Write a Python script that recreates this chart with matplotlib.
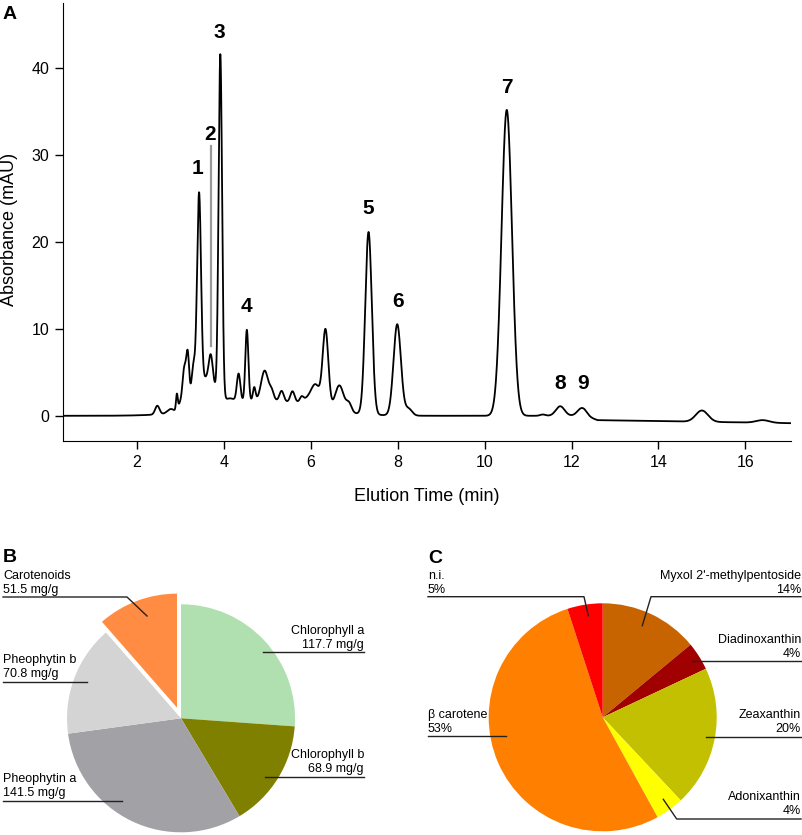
import numpy as np
import matplotlib.pyplot as plt

plt.rcParams['font.family'] = ['Liberation Sans', 'DejaVu Sans']

W, H = 803, 835  # figure size in pixels

# --- Panel A: peak table ---
# retention time (min), height (mAU), width sigma (min)
peak_time = [2.47, 2.78, 2.92, 3.00, 3.09, 3.17, 3.30, 3.60, 4.90,
             3.43, 3.70, 3.92, 4.15, 4.34, 4.53, 4.70, 4.94, 5.10, 5.33,
             5.58, 5.79, 5.95, 6.12, 6.34, 6.66, 6.88, 7.33, 7.99, 8.25,
             10.51, 11.34, 11.74, 12.24, 15.0, 16.4]
peak_height = [1.0, 0.5, 1.8, 1.0, 4.5, 6.0, 4.0, 3.5, 1.8,
               22.5, 3.0, 39.4, 0.5, 3.2, 8.2, 1.5, 3.4, 1.0, 1.2,
               1.3, 0.5, 0.8, 2.2, 9.0, 3.0, 1.0, 21.0, 10.5, 0.8,
               35.2, 0.15, 1.1, 0.9, 1.3, 0.3]
peak_sigma = [0.05, 0.08, 0.02, 0.05, 0.04, 0.035, 0.045, 0.20, 1.10,
              0.045, 0.045, 0.04, 0.10, 0.04, 0.035, 0.03, 0.08, 0.05, 0.05,
              0.05, 0.04, 0.15, 0.10, 0.065, 0.10, 0.06, 0.075, 0.085, 0.08,
              0.12, 0.06, 0.10, 0.10, 0.14, 0.15]
drift_time = [0.3, 12.3, 12.6, 17.05]
drift_abs = [0.0, 0.0, -0.5, -0.85]

label_ids = ['1', '2', '3', '4', '5', '6', '7', '8', '9']
label_time = [3.40, 3.68, 3.89, 4.53, 7.33, 8.01, 10.51, 11.75, 12.26]
label_abs = [28.4, 32.4, 44.1, 12.6, 23.8, 13.1, 37.8, 3.7, 3.7]

# --- Panel B: pigment content (mg/g) ---
pig_names = ['Chlorophyll a', 'Chlorophyll b', 'Pheophytin a', 'Pheophytin b', 'Carotenoids']
pig_values = [117.7, 68.9, 141.5, 70.8, 51.5]
pig_colors = ['#b0dfb0', '#808000', '#a2a1a6', '#d4d4d4', '#ff8c42']

# --- Panel C: carotenoid composition (%) ---
caro_names = ["Myxol 2'-methylpentoside", 'Diadinoxanthin', 'Zeaxanthin',
              'Adonixanthin', 'β carotene', 'n.i.']
caro_pct = [14, 4, 20, 4, 53, 5]
caro_colors = ['#c86400', '#a00000', '#c2c000', '#ffff00', '#ff8000', '#ff0000']

fig = plt.figure(figsize=(W / 100, H / 100), dpi=100)

# chromatogram
ax = fig.add_axes([63 / W, 1 - 441 / H, (791 - 63) / W, (441 - 3) / H])
t = np.linspace(0.3, 17.05, 4000)
signal = np.interp(t, drift_time, drift_abs)
for t0, h, s in zip(peak_time, peak_height, peak_sigma):
    signal = signal + h * np.exp(-0.5 * ((t - t0) / s) ** 2)
ax.plot(t, signal, color='black', lw=1.3)

for lab, lt, la in zip(label_ids, label_time, label_abs):
    ax.text(lt, la, lab, ha='center', va='center', fontsize=15, fontweight='bold')
# pointer line for peak 2
ax.plot([3.70, 3.70], [8.0, 31.0], color='#999999', lw=1.6)

ax.set_xlim(0.3, 17.05)
ax.set_ylim(-2.9, 47.5)
ax.set_xticks(range(2, 17, 2))
ax.set_yticks(range(0, 41, 10))
ax.spines['top'].set_visible(False)
ax.spines['right'].set_visible(False)
ax.tick_params(direction='out', length=6, width=1, labelsize=11.5, pad=4)
ax.set_xlabel('Elution Time (min)', fontsize=13)
ax.set_ylabel('Absorbance (mAU)', fontsize=13)
ax.xaxis.set_label_coords(0.5, -0.107)
ax.yaxis.set_label_coords(-0.062, 0.482)


def pie_box(cx, cy, half):
    return [(cx - half) / W, 1 - (cy + half) / H, 2 * half / W, 2 * half / H]


R = 114
lim = 1.25

axb = fig.add_axes(pie_box(181, 718.3, R * lim))
axb.pie(pig_values, colors=pig_colors, startangle=90, counterclock=False,
        explode=[0, 0, 0, 0, 0.1], wedgeprops=dict(linewidth=0))
axb.set_xlim(-lim, lim)
axb.set_ylim(-lim, lim)
axb.axis('off')

axc = fig.add_axes(pie_box(602.7, 717.3, R * lim))
axc.pie(caro_pct, colors=caro_colors, startangle=90, counterclock=False,
        wedgeprops=dict(linewidth=0))
axc.set_xlim(-lim, lim)
axc.set_ylim(-lim, lim)
axc.axis('off')

# overlay in pixel coordinates for the labels and leader lines
axo = fig.add_axes([0, 0, 1, 1])
axo.set_xlim(0, W)
axo.set_ylim(H, 0)
axo.axis('off')
axo.patch.set_alpha(0)

# (text x, baseline y, ha, leader line points)
b_layout = [
    (364, 648, 'right', [(263, 652), (364, 652)]),
    (364, 772, 'right', [(265, 776.7), (364, 776.7)]),
    (3, 796, 'left', [(3, 800.7), (122, 800.7)]),
    (3, 677, 'left', [(3, 681.7), (87, 681.7)]),
    (3, 593, 'left', [(3, 597), (127, 597), (147, 616)]),
]
for name, val, (x, y, ha, pts) in zip(pig_names, pig_values, b_layout):
    axo.text(x, y, f'{name}\n{val:.1f} mg/g', ha=ha, va='baseline', fontsize=9,
             linespacing=1.2)
    xs, ys = zip(*pts)
    axo.plot(xs, ys, color='#222222', lw=1)

c_layout = [
    (801, 593, 'right', [(801, 596.7), (651, 596.7), (642.3, 625.7)]),
    (801, 657, 'right', [(801, 661), (692.3, 661)]),
    (801, 732, 'right', [(801, 736.7), (706, 736.7)]),
    (801, 814, 'right', [(801, 819), (676.7, 819), (663.3, 799.3)]),
    (428, 732, 'left', [(428, 736), (505.7, 736)]),
    (428, 593, 'left', [(428, 596.7), (584, 596.7), (588.3, 615.7)]),
]
for name, pct, (x, y, ha, pts) in zip(caro_names, caro_pct, c_layout):
    axo.text(x, y, f'{name}\n{pct}%', ha=ha, va='baseline', fontsize=9,
             linespacing=1.2)
    xs, ys = zip(*pts)
    axo.plot(xs, ys, color='#222222', lw=1)

for letter, x, y in [('A', 3, 19), ('B', 3, 562), ('C', 428, 563)]:
    axo.text(x, y, letter, ha='left', va='baseline', fontsize=14, fontweight='bold')

fig.savefig('out.png', dpi=100)
